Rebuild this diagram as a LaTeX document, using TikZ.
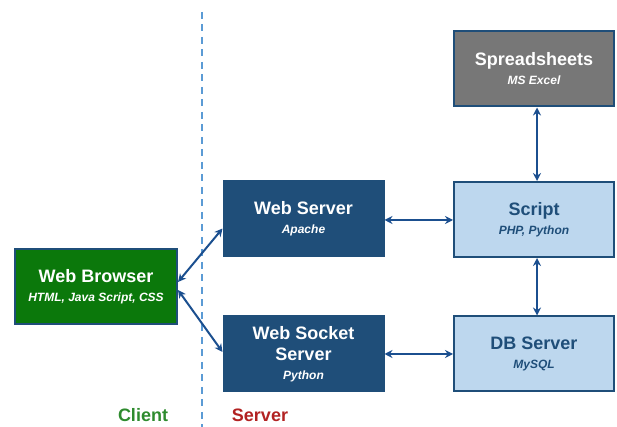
\documentclass[tikz,border=0pt]{standalone}
\usepackage{fontspec}
\setmainfont{Liberation Sans}
\usetikzlibrary{arrows.meta, positioning}
\definecolor{navy}{HTML}{1F4E79}
\definecolor{navyline}{HTML}{1B4F8F}
\definecolor{paleblue}{HTML}{BDD7EE}
\definecolor{sheetgray}{HTML}{777777}
\definecolor{browsergreen}{HTML}{0B780B}
\definecolor{clientgreen}{HTML}{2E8B2E}
\definecolor{serverred}{HTML}{B22222}
\definecolor{splitblue}{HTML}{5B9BD5}
\tikzset{
  box/.style={draw=navy, line width=2pt, minimum width=160pt, minimum height=75pt,
    align=center, font=\bfseries\fontsize{18}{20}\selectfont},
  darkbox/.style={box, fill=navy, text=white},
  lightbox/.style={box, fill=paleblue, text=navy},
  link/.style={draw=navyline, line width=2pt, {Stealth[length=8pt,width=8pt]}-{Stealth[length=8pt,width=8pt]}},
}
\newcommand{\sub}[1]{\\[-1pt]{\fontsize{12}{14}\selectfont\bfseries\itshape #1}}
\begin{document}
\begin{tikzpicture}[x=1pt, y=1pt]
\useasboundingbox (0,0) rectangle (617,427);
% client / server split
\draw[splitblue, line width=1.5pt, dash pattern=on 7pt off 5.5pt] (202,415) -- (202,0);
\node[text=clientgreen, font=\bfseries\fontsize{18}{20}\selectfont] (client) at (143,12) {Client};
\node[text=serverred, font=\bfseries\fontsize{18}{20}\selectfont] (server) at (260,12) {Server};
% boxes
\node[box, fill=browsergreen, text=white, minimum width=162pt] (browser) at (96,140) {Web Browser\sub{HTML, Java Script,\ CSS}};
\node[darkbox] (webserver) at (303.5,208.5) {Web Server\sub{Apache}};
\node[darkbox] (socket) at (303.5,73) {Web Socket\\[1pt]Server\sub{Python}};
\node[lightbox] (script) at (534,207.5) {Script\sub{PHP, Python}};
\node[lightbox] (db) at (534,73) {DB Server\sub{MySQL}};
\node[box, fill=sheetgray, text=white] (sheets) at (534,358) {Spreadsheets\sub{MS Excel}};
% connectors
\draw[link] ([yshift=5pt]browser.east) -- ([yshift=-10pt]webserver.west);
\draw[link] ([yshift=-3pt]browser.east) -- ([yshift=2pt]socket.west);
\draw[link] ([yshift=-1.5pt]webserver.east) -- ([yshift=-0.5pt]script.west);
\draw[link] (socket.east) -- (db.west);
\draw[link] ([xshift=3pt]sheets.south) -- ([xshift=3pt]script.north);
\draw[link] ([xshift=3pt]script.south) -- ([xshift=3pt]db.north);
\end{tikzpicture}
\end{document}
